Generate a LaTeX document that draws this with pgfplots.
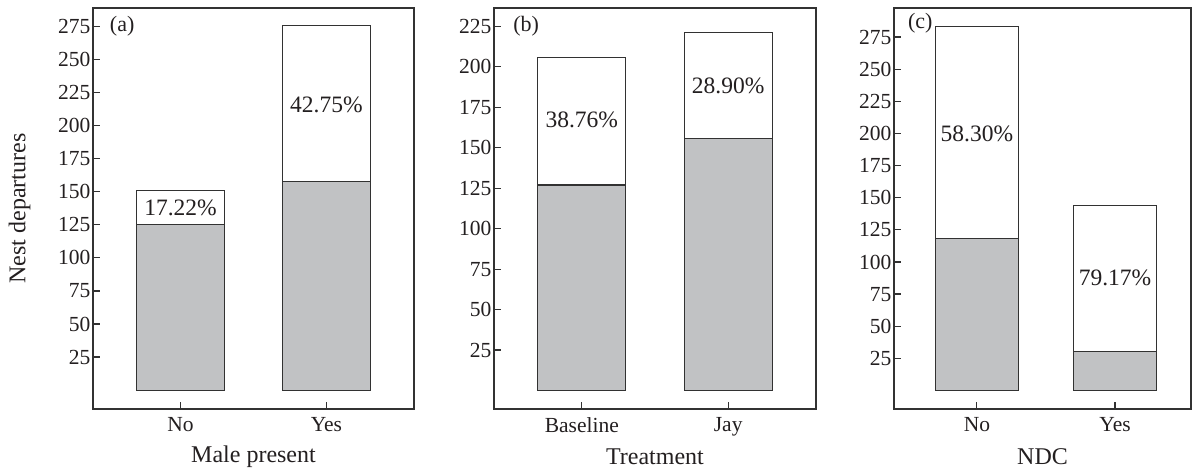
\documentclass[border=0pt]{standalone}
\usepackage{fontspec}
\setmainfont{Liberation Serif}
\usepackage{pgfplots}
\pgfplotsset{compat=1.18}
\definecolor{barg}{RGB}{193,194,196}
\definecolor{frm}{RGB}{50,50,50}
\definecolor{txt}{RGB}{35,31,32}
\pgfplotsset{panel/.style={
  scale only axis, anchor=south west, height=401pt,
  ybar stacked, bar width=0.6,
  xmin=-0.6, xtick={0,1},
  tick align=inside, tick pos=left, major tick length=7pt,
  axis line style={line width=1.2pt, frm},
  tick style={line width=1.2pt, frm},
  every tick label/.append style={font=\fontsize{21.5}{24}\selectfont, text=txt},
  xticklabel style={yshift=-5pt},
  yticklabel style={xshift=1pt},
  label style={font=\fontsize{24}{28}\selectfont, text=txt},
  xlabel style={at={(axis description cs:0.5,-0.1197)}, anchor=center},
  /pgf/number format/assume math mode=true,
  clip=false,
  every axis plot/.append style={draw=frm, line width=1.1pt},
}}
\tikzset{pct/.style={font=\fontsize{23.5}{27}\selectfont, text=txt}}
\begin{document}
\begin{tikzpicture}
\useasboundingbox (0,0) rectangle (1192pt,470pt);
% (a)
\begin{axis}[panel, at={(93pt,61pt)}, width=321pt, xmax=1.6,
  ymin=-14.3, ymax=289, ytick={25,50,...,275},
  xticklabels={No,Yes}, xlabel={Male present},
  ylabel={Nest departures},
  ylabel style={at={(axis description cs:-0.229,0.5)}, anchor=center},
  after end axis/.code={
    \node[pct] at (axis cs:0,137.5) {17.22\%};
    \node[pct] at (axis cs:1,216) {42.75\%};
    \node[font=\fontsize{22}{26}\selectfont, text=txt] at (axis cs:-0.40,275) {(a)};
  }]
\addplot[fill=barg] coordinates {(0,125) (1,158)};
\addplot[fill=white] coordinates {(0,26) (1,118)};
\end{axis}
% (b)
\begin{axis}[panel, at={(494pt,61pt)}, width=322pt, xmax=1.6,
  ymin=-11.4, ymax=236.4, ytick={25,50,...,225},
  xticklabels={Baseline,Jay}, xlabel={Treatment},
  after end axis/.code={
    \node[pct] at (axis cs:0,167) {38.76\%};
    \node[pct] at (axis cs:1,188) {28.90\%};
    \node[font=\fontsize{22}{26}\selectfont, text=txt] at (axis cs:-0.38,225) {(b)};
  }]
\addplot[fill=barg] coordinates {(0,127) (1,156)};
\addplot[fill=white] coordinates {(0,79) (1,65)};
\end{axis}
% (c)
\begin{axis}[panel, at={(894pt,61pt)}, width=297pt, xmax=1.55,
  ymin=-14.4, ymax=297.6, ytick={25,50,...,275},
  xticklabels={No,Yes}, xlabel={NDC},
  after end axis/.code={
    \node[pct] at (axis cs:0,200) {58.30\%};
    \node[pct] at (axis cs:1,87.4) {79.17\%};
    \node[font=\fontsize{22}{26}\selectfont, text=txt] at (axis cs:-0.41,285.8) {(c)};
  }]
\addplot[fill=barg] coordinates {(0,118) (1,30)};
\addplot[fill=white] coordinates {(0,165) (1,114)};
\end{axis}
\end{tikzpicture}
\end{document}
